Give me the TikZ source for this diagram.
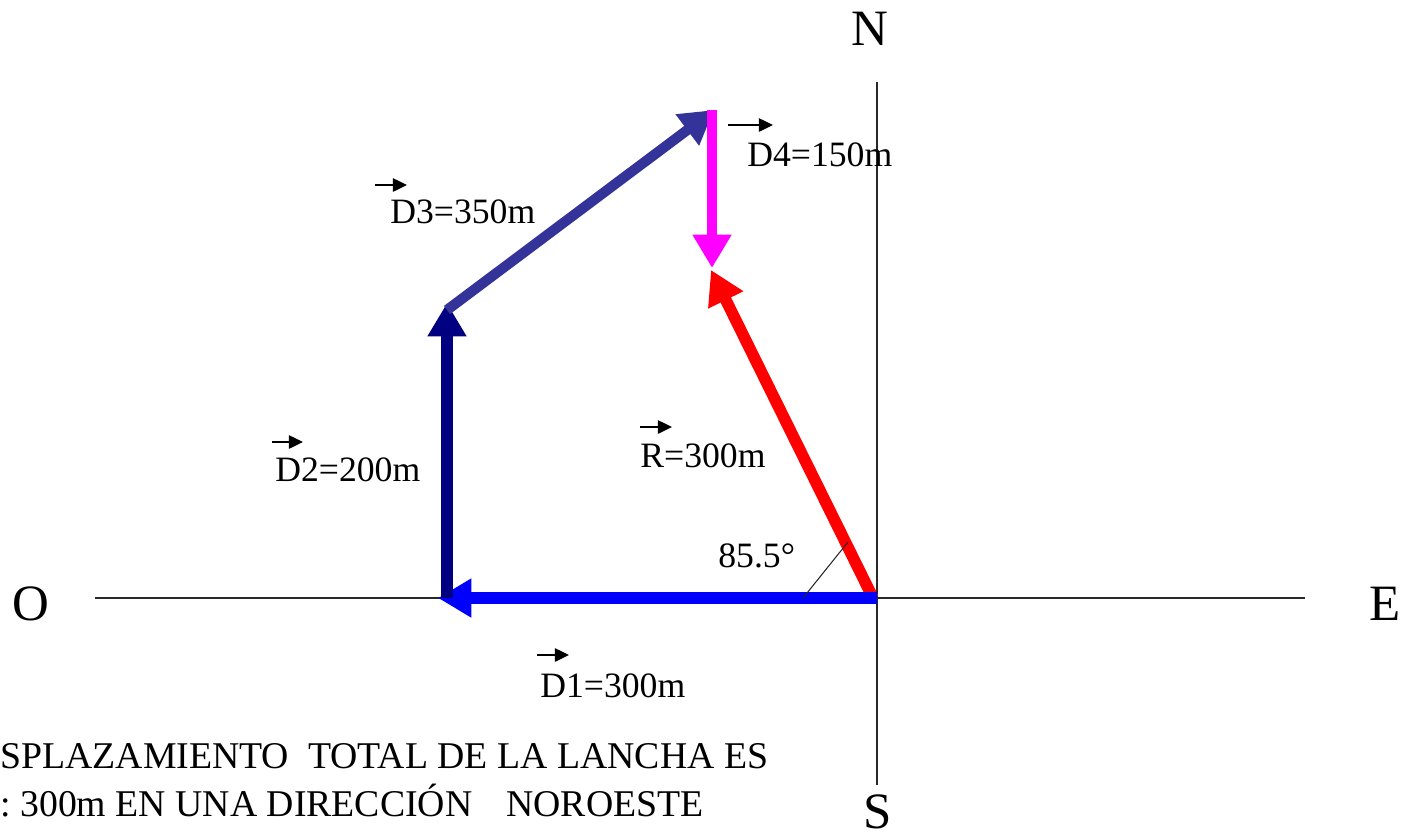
\documentclass[tikz,border=0pt]{standalone}
\usepackage{fontspec}
\setmainfont{Liberation Serif}
\usetikzlibrary{arrows.meta}
\definecolor{dthree}{RGB}{51,51,153}
\definecolor{dtwo}{RGB}{0,0,128}
\definecolor{dfour}{RGB}{255,0,255}
\definecolor{done}{RGB}{0,0,255}
\definecolor{rred}{RGB}{255,0,0}
\definecolor{axisgray}{RGB}{40,40,40}
\tikzset{
  axisline/.style={draw=axisgray,line width=0.8pt},
  vecline/.style={line width=6.6pt,-{Triangle[length=19pt,width=21pt]}},
  lbl/.style={inner sep=0pt,anchor=base west,font=\fontsize{20.3}{23}\selectfont},
  cardinal/.style={inner sep=0pt,anchor=base,font=\fontsize{29}{32}\selectfont},
  bigtext/.style={inner sep=0pt,anchor=base west,font=\fontsize{21.5}{26}\selectfont},
  smallvec/.style={line width=1.2pt,-{Triangle[length=8pt,width=7.5pt]}},
}
\begin{document}
\begin{tikzpicture}[x=0.02cm,y=-0.02cm]
\useasboundingbox (0,0) rectangle (1404,839);
% axes
\coordinate (ow) at (95,598);
\coordinate (oe) at (1305,598);
\coordinate (on) at (877,82);
\coordinate (os) at (877,785);
\draw[axisline] (ow) -- (oe);
\draw[axisline] (on) -- (os);
\node[cardinal] (N) at (870,45) {N};
\node[cardinal] (S) at (878,828) {S};
\node[cardinal] (O) at (31,620) {O};
\node[cardinal] (E) at (1385,620) {E};
% points
\coordinate (P0) at (877,598);
\coordinate (P1) at (438,598);
\coordinate (P1b) at (447,598);
\coordinate (P2) at (447,303);
\coordinate (P2b) at (447,310);
\coordinate (P3) at (714,110);
\coordinate (P3b) at (712,110);
\coordinate (P4) at (712,268);
\coordinate (R0) at (873,598);
\coordinate (R1) at (711,270);
% vectors
\draw[vecline,rred] (R0) -- (R1);
\draw[vecline,done] (P0) -- (P1);
\draw[vecline,dtwo] (P1b) -- (P2);
\draw[vecline,dthree,line width=5.8pt] (P2b) -- (P3);
\draw[vecline,dfour,line width=6pt] (P3b) -- (P4);
% angle mark
\coordinate (a1) at (803,598);
\coordinate (a2) at (848,542);
\draw[axisgray,line width=0.6pt] (a1) -- (a2);
\node[lbl] (ang) at (718,567) {85.5°};
% labels
\node[lbl] (d1) at (540,697) {D1=300m};
\node[lbl] (d2) at (275,481) {D2=200m};
\node[lbl] (d3) at (390,223) {D3=350m};
\node[lbl] (d4) at (747,166) {D4=150m};
\node[lbl] (r) at (640,467) {R=300m};
\draw[smallvec] ([shift={(-3,-42)}]d1.base west) -- ++(32,0);
\draw[smallvec] ([shift={(-3,-39)}]d2.base west) -- ++(31,0);
\draw[smallvec] ([shift={(-15,-38)}]d3.base west) -- ++(32,0);
\draw[smallvec] ([shift={(-19,-41)}]d4.base west) -- ++(45,0);
\draw[smallvec] ([shift={(0,-40)}]r.base west) -- ++(32,0);
% bottom text
\node[bigtext] (t1) at (0,768) {SPLAZAMIENTO\ \ TOTAL DE LA LANCHA ES};
\node[bigtext] (t2) at (0,816) {:\ 300m\ EN UNA DIRECCIÓN\hspace{0.9em}NOROESTE};
\end{tikzpicture}
\end{document}
